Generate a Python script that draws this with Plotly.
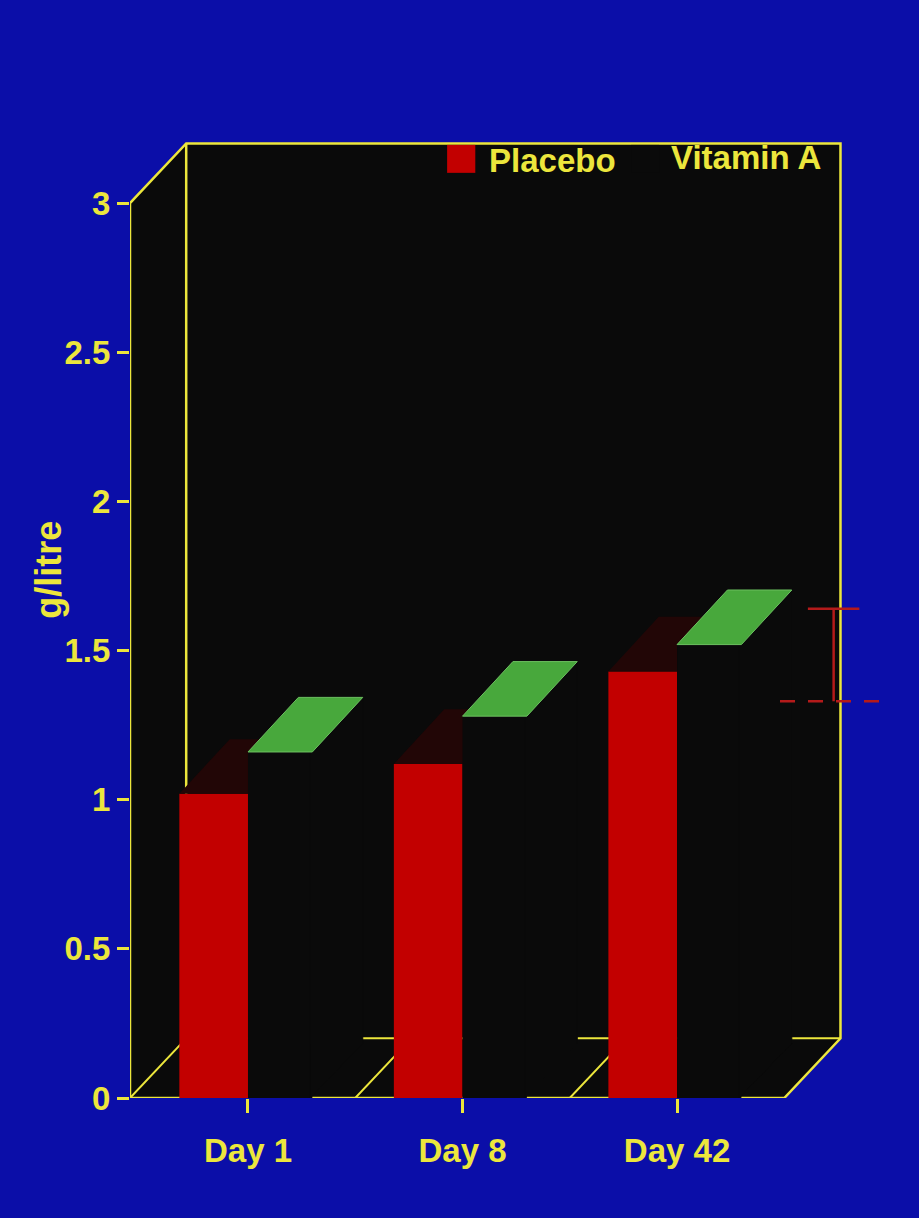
import plotly.graph_objects as go

# ---------------- data ----------------
categories = ["Day 1", "Day 8", "Day 42"]
placebo = [1.02, 1.12, 1.43]
vitamin_a = [1.16, 1.28, 1.52]
y_ticks = [0, 0.5, 1, 1.5, 2, 2.5, 3]
y_tick_labels = ["0", "0.5", "1", "1.5", "2", "2.5", "3"]
ref_upper = 1.64   # red capped marker at right
ref_lower = 1.33   # red dashed reference line

# ---------------- style / geometry ----------------
BLUE = "#0b0ea8"
BLACK = "#0a0a0a"
YELLOW = "#ece63c"
RED = "#c20000"
RED_TOP = "#220606"
GREEN = "#48a83c"
REFRED = "#b41a1a"
FONT = "Liberation Sans, Arial, sans-serif"
FS = 33

X0, X1, YMAX = -0.55, 2.5, 3.0        # front frame
DX, DY = 0.262, 0.2                   # frame depth
BDX, BDY = 0.235, 0.183               # bar depth
RED_OFF, RED_W, VIT_W = -0.32, 0.32, 0.30

xpos = list(range(len(categories)))

fig = go.Figure()

# front faces of bars
fig.add_trace(go.Bar(x=xpos, y=placebo, offset=RED_OFF, width=RED_W, name="Placebo",
                     marker=dict(color=RED, line=dict(width=0)), showlegend=False))
fig.add_trace(go.Bar(x=xpos, y=vitamin_a, offset=0, width=VIT_W, name="Vitamin A",
                     marker=dict(color=BLACK, line=dict(width=0)), showlegend=False))

# 3D faces
for c, v, vv in zip(xpos, placebo, vitamin_a):
    # placebo top face (part not hidden by the vitamin A bar)
    yc = min(max(vv, v), v + BDY)
    xi = c + BDX * (yc - v) / BDY
    px = [c + RED_OFF, c, c, xi, c + BDX, c + RED_OFF + BDX, c + RED_OFF]
    py = [v, v, yc, yc, v + BDY, v + BDY, v]
    fig.add_trace(go.Scatter(x=px, y=py, fill="toself", fillcolor=RED_TOP, mode="lines",
                             line=dict(width=0, color=RED_TOP), hoverinfo="skip", showlegend=False))
    # vitamin A side face
    sx = [c + VIT_W - 0.01, c + VIT_W + BDX, c + VIT_W + BDX, c + VIT_W - 0.01, c + VIT_W - 0.01]
    sy = [0, BDY, vv + BDY, vv, 0]
    fig.add_trace(go.Scatter(x=sx, y=sy, fill="toself", fillcolor=BLACK, mode="lines",
                             line=dict(width=1, color=BLACK), hoverinfo="skip", showlegend=False))
    # vitamin A top face
    tx = [c, c + VIT_W, c + VIT_W + BDX, c + BDX, c]
    ty = [vv, vv, vv + BDY, vv + BDY, vv]
    fig.add_trace(go.Scatter(x=tx, y=ty, fill="toself", fillcolor=GREEN, mode="lines",
                             line=dict(width=1, color="#6cc060"), hoverinfo="skip", showlegend=False))

# red reference marks at right
RX = X1 + 0.23
fig.add_trace(go.Scatter(x=[RX, RX], y=[ref_lower, ref_upper], mode="lines",
                         line=dict(color=REFRED, width=2.5), hoverinfo="skip", showlegend=False))
fig.add_trace(go.Scatter(x=[RX - 0.12, RX + 0.12], y=[ref_upper, ref_upper], mode="lines",
                         line=dict(color=REFRED, width=2.5), hoverinfo="skip", showlegend=False))
fig.add_trace(go.Scatter(x=[RX - 0.25, RX + 0.24], y=[ref_lower, ref_lower], mode="lines",
                         line=dict(color=REFRED, width=2.5, dash="15px,13px"),
                         hoverinfo="skip", showlegend=False))

# frame (below traces)
shapes = []
frame_path = (f"M {X0},0 L {X0},{YMAX} L {X0+DX},{YMAX+DY} L {X1+DX},{YMAX+DY} "
              f"L {X1+DX},{DY} L {X1},0 Z")
shapes.append(dict(type="path", path=frame_path, xref="x", yref="y", layer="below",
                   fillcolor=BLACK, line=dict(color=YELLOW, width=2.5)))
# back-left vertical edge
shapes.append(dict(type="line", xref="x", yref="y", layer="below",
                   x0=X0 + DX, y0=DY, x1=X0 + DX, y1=YMAX + DY,
                   line=dict(color=YELLOW, width=2.5)))
# back floor edge
shapes.append(dict(type="line", xref="x", yref="y", layer="below",
                   x0=X0 + DX, y0=DY, x1=X1 + DX, y1=DY,
                   line=dict(color=YELLOW, width=2)))
# floor diagonals
for b in [X0, 0.5, 1.5]:
    shapes.append(dict(type="line", xref="x", yref="y", layer="below",
                       x0=b, y0=0, x1=b + DX, y1=DY,
                       line=dict(color=YELLOW, width=2)))

# legend (manual, large square keys)
shapes.append(dict(type="rect", xref="paper", yref="paper",
                   x0=0.405, x1=0.441, y0=0.927, y1=0.955,
                   fillcolor=RED, line=dict(width=0)))
shapes.append(dict(type="rect", xref="paper", yref="paper",
                   x0=0.640, x1=0.676, y0=0.927, y1=0.955,
                   fillcolor=BLACK, line=dict(width=0)))

annotations = [
    dict(text="Placebo", xref="paper", yref="paper", x=0.456, y=0.939,
         xanchor="left", yanchor="middle", showarrow=False,
         font=dict(family=FONT, size=FS, color=YELLOW, weight="bold")),
    dict(text="Vitamin A", xref="paper", yref="paper", x=0.689, y=0.942,
         xanchor="left", yanchor="middle", showarrow=False,
         font=dict(family=FONT, size=FS, color=YELLOW, weight="bold")),
    dict(text="g/litre", xref="paper", yref="y", x=-0.105, y=1.77,
         xanchor="center", yanchor="middle", textangle=-90, showarrow=False,
         font=dict(family=FONT, size=36, color=YELLOW, weight="bold")),
]

fig.update_layout(
    width=919, height=1218,
    paper_bgcolor=BLUE, plot_bgcolor=BLUE,
    margin=dict(l=130, r=6, t=100, b=120),
    barmode="overlay",
    shapes=shapes, annotations=annotations,
    font=dict(family=FONT, color=YELLOW, size=FS, weight="bold"),
    showlegend=False,
    xaxis=dict(range=[X0, 3.10], tickvals=xpos, ticktext=categories,
               ticks="outside", ticklen=14, tickwidth=2.5, tickcolor=YELLOW,
               ticklabelstandoff=9, showgrid=False, zeroline=False, showline=False,
               tickfont=dict(family=FONT, size=FS, color=YELLOW, weight="bold")),
    yaxis=dict(range=[0, 3.3456], tickvals=y_ticks, ticktext=y_tick_labels,
               ticks="outside", ticklen=12, tickwidth=2.5, tickcolor=YELLOW,
               showgrid=False, zeroline=False, showline=False,
               tickfont=dict(family=FONT, size=FS, color=YELLOW, weight="bold")),
)

fig.write_html("out.html", config={"displayModeBar": False},
               post_script="document.body.style.margin='0';document.body.style.padding='0';")
